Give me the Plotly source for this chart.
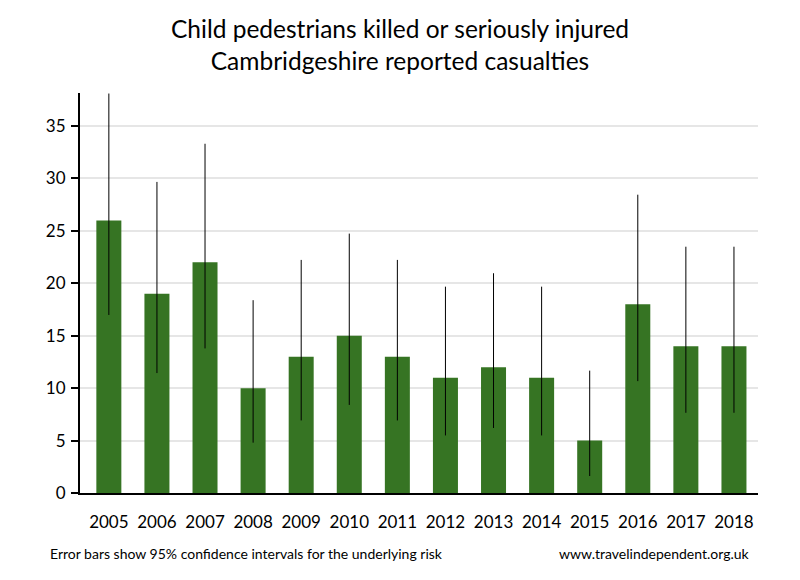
import plotly.graph_objects as go

years = ["2005", "2006", "2007", "2008", "2009", "2010", "2011", "2012", "2013", "2014", "2015", "2016", "2017", "2018"]
casualties = [26, 19, 22, 10, 13, 15, 13, 11, 12, 11, 5, 18, 14, 14]
ci_lower = [16.98, 11.44, 13.79, 4.80, 6.92, 8.40, 6.92, 5.49, 6.20, 5.49, 1.62, 10.67, 7.65, 7.65]
ci_upper = [38.10, 29.67, 33.31, 18.39, 22.23, 24.74, 22.23, 19.68, 20.96, 19.68, 11.67, 28.45, 23.49, 23.49]

err_plus = [u - v for u, v in zip(ci_upper, casualties)]
err_minus = [v - l for v, l in zip(casualties, ci_lower)]

FONT = "Lato"

fig = go.Figure()
fig.add_trace(go.Bar(
    x=years, y=casualties,
    marker=dict(color="#367423", line=dict(width=0)),
    width=0.52,
    error_y=dict(type="data", symmetric=False, array=err_plus, arrayminus=err_minus,
                 color="black", thickness=1, width=0),
))

fig.update_layout(
    width=800, height=580,
    margin=dict(l=72, r=50, t=85, b=95),
    paper_bgcolor="white", plot_bgcolor="white",
    showlegend=False,
    font=dict(family=FONT, color="black"),
    title=dict(text="Child pedestrians killed or seriously injured<br>Cambridgeshire reported casualties",
               x=0.49, xanchor="center", y=0.948, yanchor="top",
               font=dict(family=FONT, size=24.5, color="black")),
    xaxis=dict(type="category", range=[-0.6, 13.5], showline=True, linecolor="black", linewidth=2,
               ticks="", showgrid=False, tickfont=dict(size=17, family=FONT),
               ticklabelstandoff=13),
    yaxis=dict(range=[0, 38.15], tickvals=[0, 5, 10, 15, 20, 25, 30, 35], showline=True,
               linecolor="black", linewidth=2, ticks="outside", ticklen=7, tickwidth=2,
               tickcolor="black", showgrid=True, gridcolor="#e6e6e6", gridwidth=2,
               zeroline=False, tickfont=dict(size=17, family=FONT), ticklabelstandoff=2),
    annotations=[
        dict(text="Error bars show 95% confidence intervals for the underlying risk",
             xref="paper", yref="paper", x=-0.047, y=-0.15, xanchor="left", yanchor="middle",
             showarrow=False, font=dict(size=14, family=FONT, color="black")),
        dict(text="www.travelindependent.org.uk",
             xref="paper", yref="paper", x=0.991, y=-0.15, xanchor="right", yanchor="middle",
             showarrow=False, font=dict(size=14, family=FONT, color="black")),
    ],
)

fig.write_html("out.html")
